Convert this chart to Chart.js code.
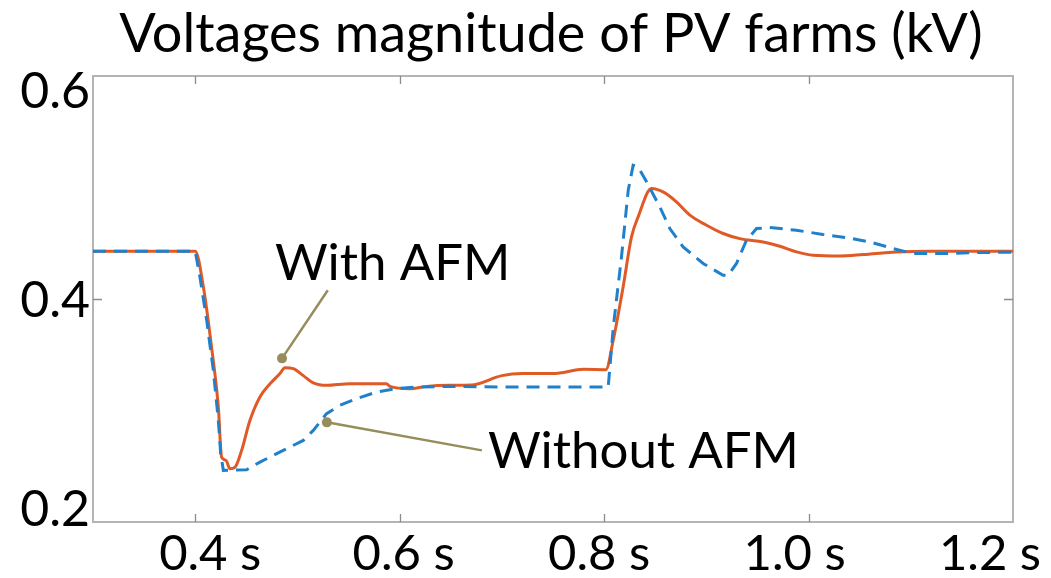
<!DOCTYPE html>
<html>
<head>
<meta charset="utf-8">
<script src="https://cdn.jsdelivr.net/npm/chart.js@4/dist/chart.umd.min.js"></script>
<style>
  html, body { margin: 0; padding: 0; background: #ffffff; }
  #wrap { width: 1051px; height: 578px; position: relative; }
</style>
</head>
<body>
<div id="wrap"><canvas id="chart"></canvas></div>
<script>
// Time axis (s) and PV farm voltage magnitude (kV)
const tWith = [0.30, 0.40, 0.408, 0.416, 0.4226, 0.4258, 0.430, 0.434, 0.439, 0.4454, 0.4535, 0.4633,
  0.473, 0.4829, 0.4878, 0.4959, 0.5057, 0.5155, 0.5285, 0.5513, 0.5677, 0.587, 0.5905, 0.610,
  0.6264, 0.649, 0.67, 0.70, 0.72, 0.75, 0.78, 0.8017, 0.8089, 0.8186, 0.8268, 0.8333, 0.8463,
  0.8594, 0.8708, 0.8839, 0.9002, 0.9164, 0.9328, 0.9556, 0.9719, 0.9882, 1.0045, 1.0306, 1.0534,
  1.086, 1.1186, 1.20];
const vWith = [0.446, 0.446, 0.4118, 0.354, 0.297, 0.249, 0.246, 0.238, 0.2395, 0.2555, 0.284, 0.3065,
  0.319, 0.329, 0.3346, 0.3337, 0.327, 0.320, 0.3177, 0.3193, 0.3193, 0.3193, 0.3167, 0.3145,
  0.3167, 0.3177, 0.318, 0.327, 0.329, 0.329, 0.333, 0.3327, 0.3608, 0.4118, 0.4596, 0.4788, 0.5059,
  0.5017, 0.4931, 0.4804, 0.4708, 0.4629, 0.458, 0.4548, 0.4507, 0.4453, 0.4421, 0.4414, 0.4428,
  0.4453, 0.446, 0.446];

const tWithout = [0.30, 0.40, 0.4046, 0.4112, 0.4177, 0.4226, 0.4249, 0.4275, 0.4503, 0.4633, 0.4861,
  0.5057, 0.5155, 0.5285, 0.5416, 0.5579, 0.5775, 0.597, 0.6166, 0.649, 0.70, 0.75, 0.804, 0.809,
  0.817, 0.8236, 0.8284, 0.8333, 0.8415, 0.8545, 0.8643, 0.8773, 0.8969, 0.9164, 0.9213, 0.9295,
  0.9393, 0.9491, 0.962, 0.988, 1.014, 1.037, 1.06, 1.0827, 1.1022, 1.135, 1.161, 1.20];
const vWithout = [0.446, 0.446, 0.4213, 0.380, 0.332, 0.2842, 0.2523, 0.2364, 0.237, 0.2443, 0.2555,
  0.265, 0.2746, 0.2906, 0.2986, 0.305, 0.3113, 0.3145, 0.316, 0.3167, 0.316, 0.316, 0.316, 0.3735,
  0.4405, 0.5043, 0.5282, 0.5266, 0.5123, 0.4883, 0.4676, 0.450, 0.4342, 0.423, 0.423, 0.4342,
  0.4565, 0.4676, 0.4686, 0.466, 0.462, 0.459, 0.4548, 0.4485, 0.4437, 0.4437, 0.4447, 0.445];

const xTicks = [0.4, 0.6, 0.8, 1.0, 1.2];
const xTickLabels = ['0.4 s', '0.6 s', '0.8 s', '1.0 s', '1.2 s'];
const yTicks = [0.2, 0.4, 0.6];
const yTickLabels = ['0.2', '0.4', '0.6'];
const titleText = 'Voltages magnitude of PV farms (kV)';

// Callouts: dot on the curve, elbow of the leader line, text anchor
const callouts = [
  { text: 'With AFM', dot: [0.4849, 0.3435], end: [0.5297, 0.4086], label: [0.478, 0.4182] },
  { text: 'Without AFM', dot: [0.5288, 0.2823], end: [0.6804, 0.2555], label: [0.6863, 0.2383] }
];

const toPts = (ts, vs) => ts.map((t, i) => ({ x: t, y: vs[i] }));

const FONT = 'Lato, "Open Sans", sans-serif';

const framePlugin = {
  id: 'frame',
  beforeDatasetsDraw(chart) {
    const { ctx, chartArea: a, scales: { x, y } } = chart;
    ctx.save();
    ctx.strokeStyle = '#b4b4b4';
    ctx.lineWidth = 2;
    ctx.strokeRect(a.left, a.top, a.right - a.left, a.bottom - a.top);
    ctx.strokeStyle = '#8c8c8c';
    ctx.lineWidth = 1.3;
    ctx.beginPath();
    xTicks.forEach(v => {
      const px = Math.round(x.getPixelForValue(v)) + 0.5;
      if (px > a.right - 2) return;
      ctx.moveTo(px, a.bottom); ctx.lineTo(px, a.bottom - 8);
      ctx.moveTo(px, a.top); ctx.lineTo(px, a.top + 8);
    });
    const py = Math.round(y.getPixelForValue(0.4)) + 0.5;
    ctx.moveTo(a.left, py); ctx.lineTo(a.left + 9, py);
    ctx.moveTo(a.right, py); ctx.lineTo(a.right - 9, py);
    ctx.stroke();
    ctx.restore();
  },
  afterDatasetsDraw(chart) {
    const { ctx, scales: { x, y } } = chart;
    ctx.save();
    ctx.fillStyle = '#000000';
    // title
    ctx.font = '54px ' + FONT;
    ctx.textAlign = 'center';
    ctx.textBaseline = 'alphabetic';
    ctx.fillText(titleText, 551, 52);
    // y tick labels
    ctx.font = '50px ' + FONT;
    ctx.textAlign = 'right';
    yTicks.forEach((v, i) => {
      ctx.fillText(yTickLabels[i], 90, y.getPixelForValue(v) + 18);
    });
    // x tick labels
    const shift = [15, 4, -5, -14, -23];
    ctx.textAlign = 'center';
    ctx.font = '49px ' + FONT;
    xTicks.forEach((v, i) => {
      ctx.fillText(xTickLabels[i], x.getPixelForValue(v) + shift[i], 570);
    });
    // callouts
    callouts.forEach(c => {
      const dx = x.getPixelForValue(c.dot[0]), dy = y.getPixelForValue(c.dot[1]);
      const ex = x.getPixelForValue(c.end[0]), ey = y.getPixelForValue(c.end[1]);
      ctx.strokeStyle = '#968d5c';
      ctx.fillStyle = '#968d5c';
      ctx.lineWidth = 2.5;
      ctx.beginPath(); ctx.moveTo(dx, dy); ctx.lineTo(ex, ey); ctx.stroke();
      ctx.beginPath(); ctx.arc(dx, dy, 5, 0, Math.PI * 2); ctx.fill();
      ctx.fillStyle = '#000000';
      ctx.font = '51px ' + FONT;
      ctx.textAlign = 'left';
      ctx.fillText(c.text, x.getPixelForValue(c.label[0]), y.getPixelForValue(c.label[1]));
    });
    ctx.restore();
  }
};

new Chart(document.getElementById('chart'), {
  type: 'line',
  data: {
    datasets: [
      {
        label: 'Without AFM',
        data: toPts(tWithout, vWithout),
        borderColor: '#1f80cc',
        borderWidth: 3,
        borderDash: [13, 8],
        pointRadius: 0,
        tension: 0
      },
      {
        label: 'With AFM',
        data: toPts(tWith, vWith),
        borderColor: '#e05a26',
        borderWidth: 3,
        pointRadius: 0,
        cubicInterpolationMode: 'monotone'
      }
    ]
  },
  options: {
    responsive: true,
    maintainAspectRatio: false,
    animation: false,
    layout: { padding: { left: 93, top: 76, right: 38, bottom: 56 } },
    plugins: { legend: { display: false }, title: { display: false }, tooltip: { enabled: false } },
    scales: {
      x: { type: 'linear', min: 0.3, max: 1.2, display: false },
      y: { type: 'linear', min: 0.187, max: 0.6135, display: false }
    }
  },
  plugins: [framePlugin]
});
</script>
</body>
</html>
